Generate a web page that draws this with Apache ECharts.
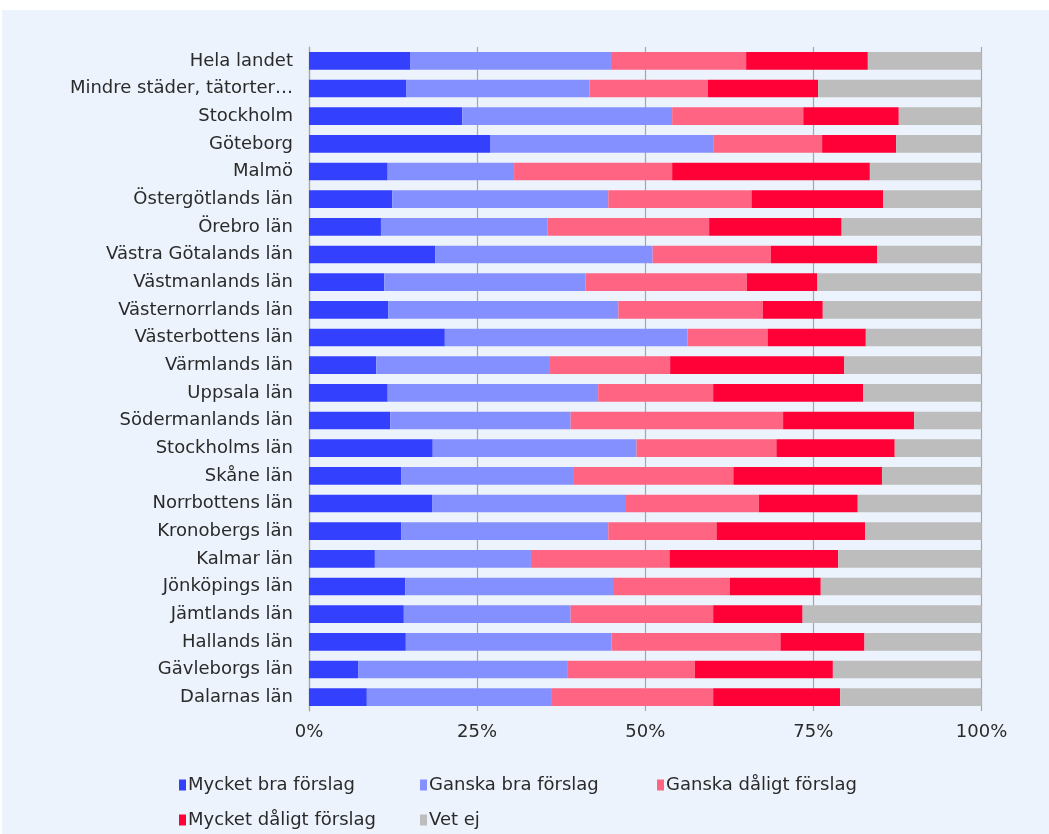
<!DOCTYPE html>
<html>
<head>
<meta charset="utf-8">
<script src="https://cdn.jsdelivr.net/npm/echarts@6/dist/echarts.min.js"></script>
<style>
  html, body { margin: 0; padding: 0; background: #ffffff; }
  #wrap { position: absolute; left: 2px; top: 10px; width: 1047px; height: 824px; background: #edf3fc; }
  #chart { position: absolute; left: -2px; top: -10px; width: 1049px; height: 834px; }
</style>
</head>
<body>
<div id="wrap"><div id="chart"></div></div>
<script>
const categories = [
  'Hela landet', 'Mindre städer, tätorter…', 'Stockholm', 'Göteborg', 'Malmö',
  'Östergötlands län', 'Örebro län', 'Västra Götalands län', 'Västmanlands län',
  'Västernorrlands län', 'Västerbottens län', 'Värmlands län', 'Uppsala län',
  'Södermanlands län', 'Stockholms län', 'Skåne län', 'Norrbottens län',
  'Kronobergs län', 'Kalmar län', 'Jönköpings län', 'Jämtlands län',
  'Hallands län', 'Gävleborgs län', 'Dalarnas län'
]
const mycketBra = [15.1, 14.5, 22.8, 27.0, 11.7, 12.4, 10.7, 18.8, 11.2, 11.8, 20.2, 10.0, 11.7, 12.1, 18.4, 13.7, 18.3, 13.7, 9.8, 14.3, 14.1, 14.4, 7.3, 8.6]
const ganskaBra = [29.8, 27.2, 31.2, 33.1, 18.8, 32.1, 24.8, 32.3, 29.9, 34.2, 36.1, 25.7, 31.3, 26.8, 30.3, 25.7, 28.7, 30.8, 23.2, 30.9, 24.8, 30.6, 31.2, 27.4]
const ganskaDaligt = [20.1, 17.6, 19.5, 16.2, 23.5, 21.3, 24.0, 17.6, 24.0, 21.5, 11.9, 18.0, 17.1, 31.6, 20.8, 23.7, 19.9, 16.1, 20.6, 17.4, 21.2, 25.1, 18.9, 24.1]
const mycketDaligt = [18.1, 16.4, 14.2, 11.0, 29.4, 19.6, 19.7, 15.8, 10.5, 8.9, 14.6, 25.9, 22.3, 19.5, 17.6, 22.1, 14.7, 22.1, 25.1, 13.5, 13.3, 12.5, 20.5, 18.9]
const vetEj = [16.9, 24.3, 12.3, 12.7, 16.6, 14.6, 20.8, 15.5, 24.4, 23.6, 17.2, 20.4, 17.6, 10.0, 12.9, 14.8, 18.4, 17.3, 21.3, 23.9, 26.6, 17.4, 22.1, 21.0]
const tickLabels = ['0%', '25%', '50%', '75%', '100%']

const seriesDefs = [
  { name: 'Mycket bra förslag', data: mycketBra, color: '#3341ff' },
  { name: 'Ganska bra förslag', data: ganskaBra, color: '#8490ff' },
  { name: 'Ganska dåligt förslag', data: ganskaDaligt, color: '#ff6483' },
  { name: 'Mycket dåligt förslag', data: mycketDaligt, color: '#ff0037' },
  { name: 'Vet ej', data: vetEj, color: '#bdbdbd' }
]

const font = '"DejaVu Sans", sans-serif'
// legend placed in columns like the original
const legendPos = [
  { left: 174, top: 771 }, { left: 415, top: 771 }, { left: 652, top: 771 },
  { left: 174, top: 806 }, { left: 415, top: 806 }
]

const chart = echarts.init(document.getElementById('chart'))
chart.setOption({
  backgroundColor: 'transparent',
  animation: false,
  grid: { left: 309, right: 67.5, top: 47, height: 664, containLabel: false },
  xAxis: {
    type: 'value',
    min: 0,
    max: 100,
    interval: 25,
    axisLine: { show: false },
    axisTick: { show: false },
    splitLine: { show: true, lineStyle: { color: '#a6a6a6', width: 1.2 } },
    axisLabel: {
      margin: 12,
      color: '#2a2a2a',
      fontSize: 18,
      fontFamily: font,
      formatter: v => tickLabels[Math.round(v / 25)]
    }
  },
  yAxis: {
    type: 'category',
    data: categories,
    inverse: true,
    axisLine: { show: true, lineStyle: { color: '#a6a6a6', width: 1.2 } },
    axisTick: { show: false },
    axisLabel: {
      margin: 16,
      color: '#2a2a2a',
      fontSize: 18,
      fontFamily: font
    }
  },
  legend: seriesDefs.map((s, i) => ({
    data: [s.name],
    left: legendPos[i].left,
    top: legendPos[i].top,
    itemWidth: 7,
    itemHeight: 11,
    itemGap: 4,
    icon: 'rect',
    textStyle: { color: '#2a2a2a', fontSize: 18, fontFamily: font, padding: [0, 0, 0, -3] }
  })),
  series: seriesDefs.map(s => ({
    name: s.name,
    type: 'bar',
    stack: 'total',
    data: s.data,
    barCategoryGap: '36%',
    itemStyle: { color: s.color }
  }))
})
</script>
</body>
</html>
